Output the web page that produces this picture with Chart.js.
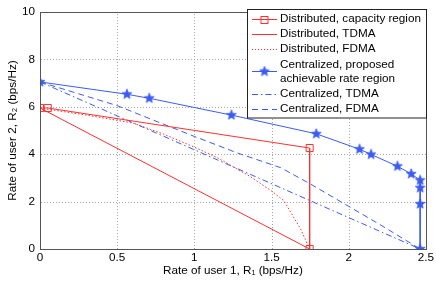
<!DOCTYPE html>
<html>
<head>
<meta charset="utf-8">
<script src="https://cdn.jsdelivr.net/npm/chart.js@4"></script>
<style>
  html, body { margin: 0; padding: 0; background: #fff; }
  #wrap { width: 436px; height: 286px; }
</style>
</head>
<body>
<div id="wrap"><canvas id="rateChart" width="436" height="286"></canvas></div>
<script>
// values
const seriesNames = [
    'Distributed, capacity region',
    'Distributed, TDMA',
    'Distributed, FDMA',
    'Centralized, proposed\nachievable rate region',
    'Centralized, TDMA',
    'Centralized, FDMA'
];

const distCapX = [0, 0.05, 1.747, 1.747];
const distCapY = [5.95, 5.95, 4.26, 0];

const distTdmaX = [0, 1.747];
const distTdmaY = [5.95, 0];

const distFdmaX = [0, 0.3, 0.6, 0.8, 1.0, 1.15, 1.364, 1.5, 1.58, 1.688, 1.747];
const distFdmaY = [5.95, 5.65, 5.32, 4.85, 4.3, 3.85, 3.05, 2.45, 2.04, 0.85, 0];

const centPropX = [0, 0.563, 0.708, 1.24, 1.79, 2.07, 2.145, 2.316, 2.405, 2.463, 2.463, 2.463, 2.463];
const centPropY = [7.05, 6.53, 6.36, 5.65, 4.86, 4.21, 3.99, 3.49, 3.17, 2.9, 2.58, 1.9, 0];

const centTdmaX = [0, 2.463];
const centTdmaY = [7.05, 0];

const centFdmaX = [0, 0.25, 0.5, 0.78, 1.0, 1.28, 1.56, 1.75, 2.0, 2.21, 2.463];
const centFdmaY = [7.05, 6.55, 6.05, 5.32, 4.75, 4.05, 3.43, 2.75, 1.8, 1.0, 0];

const xTickValues = [0, 0.5, 1, 1.5, 2, 2.5];
const yTickValues = [0, 2, 4, 6, 8, 10];

const RED = '#ff3030';
const BLUE = '#3b5cf2';
const FONT = "'Liberation Sans', Arial, Helvetica, sans-serif";
const FSIZE = 11.7;

function toPoints(xs, ys) {
    return xs.map((x, i) => ({ x: x, y: ys[i] }));
}

// filled five point star used as marker
function makeStar(color) {
    const c = document.createElement('canvas');
    c.width = 12; c.height = 12;
    const g = c.getContext('2d');
    g.beginPath();
    for (let i = 0; i < 10; i++) {
        const r = i % 2 === 0 ? 5.2 : 2.2;
        const a = -Math.PI / 2 + i * Math.PI / 5;
        const px = 6 + r * Math.cos(a), py = 6 + r * Math.sin(a);
        if (i === 0) g.moveTo(px, py); else g.lineTo(px, py);
    }
    g.closePath();
    g.fillStyle = color;
    g.fill();
    g.strokeStyle = color;
    g.lineWidth = 0.8;
    g.stroke();
    return c;
}
const starImg = makeStar(BLUE);

function lineSet(i, xs, ys, color, dash, marker) {
    return {
        label: seriesNames[i],
        data: toPoints(xs, ys),
        showLine: true,
        borderColor: color,
        borderWidth: 1,
        borderDash: dash,
        backgroundColor: 'rgba(0,0,0,0)',
        pointStyle: marker === 'star' ? starImg : 'rect',
        pointRadius: marker ? 5 : 0,
        pointHoverRadius: marker ? 5 : 0,
        pointBorderColor: color,
        pointBorderWidth: 1,
        pointBackgroundColor: 'rgba(0,0,0,0)',
        tension: 0,
        _marker: marker
    };
}

// dotted grid, drawn before the data lines
function drawGrid(chart) {
    const ctx = chart.ctx;
    const a = chart.chartArea;
    const sx = chart.scales.x, sy = chart.scales.y;
    ctx.save();
    ctx.fillStyle = '#a6a6a6';
    xTickValues.slice(1, -1).forEach(v => {
        const px = Math.round(sx.getPixelForValue(v));
        for (let py = Math.ceil(a.top) + 1; py < a.bottom; py += 3) ctx.fillRect(px, py, 1, 1);
    });
    yTickValues.slice(1, -1).forEach(v => {
        const py = Math.round(sy.getPixelForValue(v));
        for (let px = Math.ceil(a.left) + 1; px < a.right; px += 3) ctx.fillRect(px, py, 1, 1);
    });
    ctx.restore();
}

const gridPlugin = {
    id: 'dotGrid',
    beforeDatasetsDraw(chart) { drawGrid(chart); }
};

// matlab-like frame and legend box
const framePlugin = {
    id: 'frame',
    afterDraw(chart) {
        const ctx = chart.ctx;
        const a = chart.chartArea;
        ctx.save();
        ctx.strokeStyle = '#555';
        ctx.lineWidth = 1;
        ctx.setLineDash([]);
        ctx.strokeRect(Math.round(a.left) + 0.5, Math.round(a.top) + 0.5,
            Math.round(a.right - a.left), Math.round(a.bottom - a.top));

        // legend
        const lx = 247.5, ly = 9.5, lw = 179, lh = 108.5;
        ctx.fillStyle = '#fff';
        ctx.fillRect(lx, ly, lw, lh);
        ctx.strokeStyle = '#222';
        ctx.strokeRect(lx, ly, lw, lh);
        ctx.font = FSIZE + 'px ' + FONT;
        ctx.fillStyle = '#000';
        ctx.textBaseline = 'middle';
        let y = 18.5;
        chart.data.datasets.forEach(ds => {
            const lines = ds.label.split('\n');
            const cy = y + (lines.length - 1) * 7;
            ctx.strokeStyle = ds.borderColor;
            ctx.fillStyle = ds.borderColor;
            ctx.lineWidth = 1;
            const ly0 = Math.round(cy);
            if (ds.borderDash && ds.borderDash.length === 2 && ds.borderDash[0] < 2) {
                for (let px = 252; px < 277; px += 3) ctx.fillRect(px, ly0, 1, 1);
            } else {
                ctx.setLineDash(ds.borderDash || []);
                ctx.beginPath();
                ctx.moveTo(252, ly0 + 0.5);
                ctx.lineTo(277, ly0 + 0.5);
                ctx.stroke();
            }
            ctx.setLineDash([]);
            if (ds._marker === 'rect') {
                ctx.strokeRect(261, ly0 - 3 + 0.5, 7, 7);
            } else if (ds._marker === 'star') {
                ctx.drawImage(starImg, 264.5 - 6, ly0 + 0.5 - 6);
            }
            ctx.fillStyle = '#000';
            lines.forEach((t, k) => ctx.fillText(t, 280, y + k * 14));
            y += 15.3 + (lines.length - 1) * 14;
        });
        ctx.restore();
    }
};

const ctx = document.getElementById('rateChart').getContext('2d');
new Chart(ctx, {
    type: 'scatter',
    data: {
        datasets: [
            lineSet(0, distCapX, distCapY, RED, [], 'rect'),
            lineSet(1, distTdmaX, distTdmaY, RED, [], null),
            lineSet(2, distFdmaX, distFdmaY, RED, [1.5, 2], null),
            lineSet(3, centPropX, centPropY, BLUE, [], 'star'),
            lineSet(4, centTdmaX, centTdmaY, BLUE, [6, 3, 1.5, 3], null),
            lineSet(5, centFdmaX, centFdmaY, BLUE, [6, 4], null)
        ]
    },
    options: {
        responsive: false,
        animation: false,
        layout: { padding: { top: 9, right: 10, left: 0, bottom: 0 } },
        plugins: {
            legend: { display: false },
            tooltip: { enabled: false }
        },
        scales: {
            x: {
                type: 'linear',
                min: 0, max: 2.5,
                afterBuildTicks: s => { s.ticks = xTickValues.map(v => ({ value: v })); },
                afterFit: s => { s.height = 37; },
                ticks: { color: '#000', padding: 2, font: { family: FONT, size: FSIZE }, callback: v => String(v) },
                grid: { display: false, drawTicks: false },
                border: { display: false },
                title: {
                    display: true,
                    text: 'Rate of user 1, R\u2081 (bps/Hz)',
                    color: '#000',
                    font: { family: FONT, size: FSIZE },
                    padding: { top: 0, bottom: 8 }
                }
            },
            y: {
                type: 'linear',
                min: 0, max: 10,
                afterBuildTicks: s => { s.ticks = yTickValues.map(v => ({ value: v })); },
                afterFit: s => { s.width = 40; },
                ticks: { color: '#000', padding: 5, font: { family: FONT, size: FSIZE }, callback: v => String(v) },
                grid: { display: false, drawTicks: false },
                border: { display: false },
                title: {
                    display: true,
                    text: 'Rate of user 2, R\u2082 (bps/Hz)',
                    color: '#000',
                    font: { family: FONT, size: FSIZE },
                    padding: { top: 6, bottom: 0 }
                }
            }
        }
    },
    plugins: [gridPlugin, framePlugin]
});
</script>
</body>
</html>
